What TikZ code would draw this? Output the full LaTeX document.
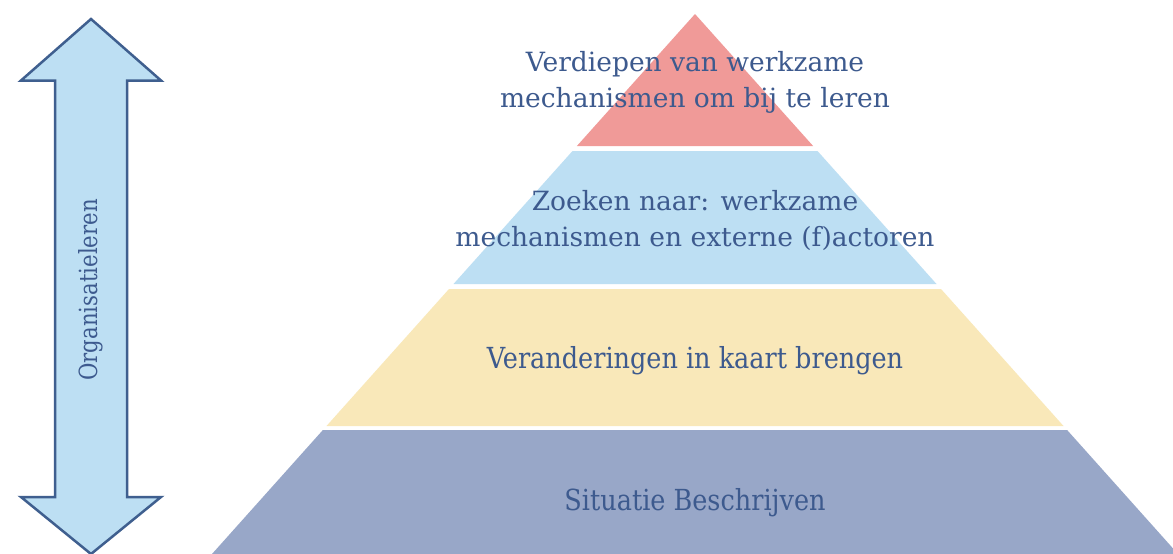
\documentclass[tikz,border=0pt]{standalone}
\usepackage{fontspec}
\setmainfont{DejaVu Serif}
\newfontfamily\condfont[FakeStretch=0.88]{DejaVu Serif}
\newfontfamily\orgfont[FakeStretch=0.85]{DejaVu Serif}
\definecolor{txt}{HTML}{3D5A8E}
\definecolor{lvlred}{HTML}{F09A98}
\definecolor{lvlblue}{HTML}{BDDFF3}
\definecolor{lvlyellow}{HTML}{F9E8B9}
\definecolor{lvlpurple}{HTML}{98A7C8}
\definecolor{arrowline}{HTML}{3F5F8F}
\begin{document}
\begin{tikzpicture}[x=1pt,y=-1pt,
  lbl/.style={text=txt, align=center, inner sep=0pt, font=\fontsize{26.5}{36}\selectfont},
  clbl/.style={text=txt, inner sep=0pt, anchor=base, font=\condfont\fontsize{29}{36}\selectfont}]
\useasboundingbox (0,0) rectangle (1173,554);
\fill[white] (0,0) rectangle (1173,554);
\begin{scope}
\clip (0,0) rectangle (1173,554);
% pyramid levels
\fill[lvlred] (695,14) -- (813.1,146) -- (576.9,146) -- cycle;
\fill[lvlblue] (572.5,151) -- (817.5,151) -- (936.5,284) -- (453.5,284) -- cycle;
\fill[lvlyellow] (449,289) -- (941,289) -- (1063.5,426) -- (326.5,426) -- cycle;
\fill[lvlpurple] (322.9,430) -- (1067.1,430) -- (1178,554) -- (212,554) -- cycle;
% double arrow
\draw[arrowline, line width=2.5pt, fill=lvlblue, line join=miter]
  (91,19) -- (161,80.5) -- (127,80.5) -- (127,497) -- (161,497) -- (91,554)
  -- (21,497) -- (55,497) -- (55,80.5) -- (21,80.5) -- cycle;
\end{scope}
\node[lbl] (top) at (695,82) {Verdiepen van werkzame\\mechanismen om bij te leren};
\node[lbl] (second) at (695,220) {Zoeken naar: werkzame\\mechanismen en externe (f)actoren};
\node[clbl] (third) at (695,368) {Veranderingen in kaart brengen};
\node[clbl] (base) at (695,510) {Situatie Beschrijven};
\node[text=txt, inner sep=0pt, rotate=90, font=\orgfont\fontsize{25}{30}\selectfont] (org) at (91,290) {Organisatieleren};
\end{tikzpicture}
\end{document}
